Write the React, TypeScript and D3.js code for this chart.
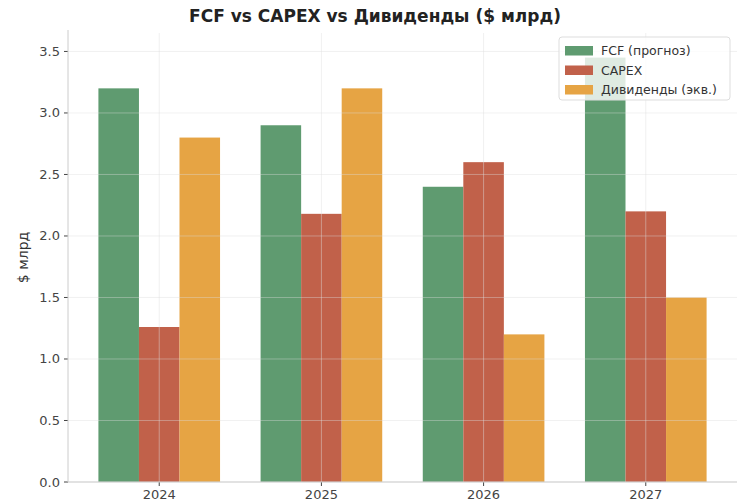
import React from "react";
import * as d3 from "d3";

const years = ["2024", "2025", "2026", "2027"];
const seriesNames = ["FCF (прогноз)", "CAPEX", "Дивиденды (экв.)"];
const fcf = [3.2, 2.9, 2.4, 3.45];
const capex = [1.26, 2.18, 2.6, 2.2];
const divs = [2.8, 3.2, 1.2, 1.5];
const colors = ["#5f9b70", "#c1614a", "#e6a444"];
const yTicks = [0, 0.5, 1, 1.5, 2, 2.5, 3, 3.5];

export default function App() {
  const W = 750, H = 500;
  const L = 68, R = 737, T = 33, B = 482;
  const x = d3.scaleLinear().domain([-0.5625, 3.5625]).range([L, R]);
  const y = d3.scaleLinear().domain([0, 3.65]).range([B, T]);
  const data = [fcf, capex, divs];
  const bw = x(0.25) - x(0);
  const font = "DejaVu Sans, sans-serif";
  return (
    <svg width={W} height={H} style={{ position: "absolute", left: 0, top: 0, background: "#fff" }} fontFamily={font}>
      <text x={375} y={22} textAnchor="middle" fontSize={17} fontWeight="bold" fill="#222">FCF vs CAPEX vs Дивиденды ($ млрд)</text>
      {data.map((s, si) =>
        s.map((v, i) => (
          <rect key={si + "-" + i} x={x(i + (si - 1.5) * 0.25)} y={y(v)} width={bw} height={y(0) - y(v)} fill={colors[si]} />
        ))
      )}
      {yTicks.map((t) => (
        <g key={t}>
          <line x1={L} x2={R} y1={y(t)} y2={y(t)} stroke="#ddd" strokeOpacity={0.4} />
          <line x1={L - 4} x2={L} y1={y(t)} y2={y(t)} stroke="#444" />
          <text x={L - 8} y={y(t) + 4.5} textAnchor="end" fontSize={13} fill="#444">{t.toFixed(1)}</text>
        </g>
      ))}
      {years.map((yr, i) => (
        <g key={yr}>
          <line x1={x(i)} x2={x(i)} y1={T} y2={B} stroke="#ddd" strokeOpacity={0.45} />
          <line x1={x(i)} x2={x(i)} y1={B} y2={B + 4} stroke="#444" />
          <text x={x(i)} y={B + 17} textAnchor="middle" fontSize={13} fill="#444">{yr}</text>
        </g>
      ))}
      <line x1={L} x2={L} y1={T - 3} y2={B} stroke="#ccc" />
      <line x1={L} x2={R} y1={B} y2={B} stroke="#ccc" />
      <text transform={`translate(28,${(T + B) / 2}) rotate(-90)`} textAnchor="middle" fontSize={14} fill="#333">$ млрд</text>
      <g transform="translate(559,37)">
        <rect x={0} y={0} width={171} height={63} rx={3} fill="#fff" fillOpacity={0.8} stroke="#ddd" />
        {seriesNames.map((n, i) => (
          <g key={n} transform={`translate(6,${6 + i * 19.5})`}>
            <rect x={0} y={3} width={28} height={9.5} fill={colors[i]} />
            <text x={36} y={12} fontSize={12.5} fill="#333">{n}</text>
          </g>
        ))}
      </g>
    </svg>
  );
}
